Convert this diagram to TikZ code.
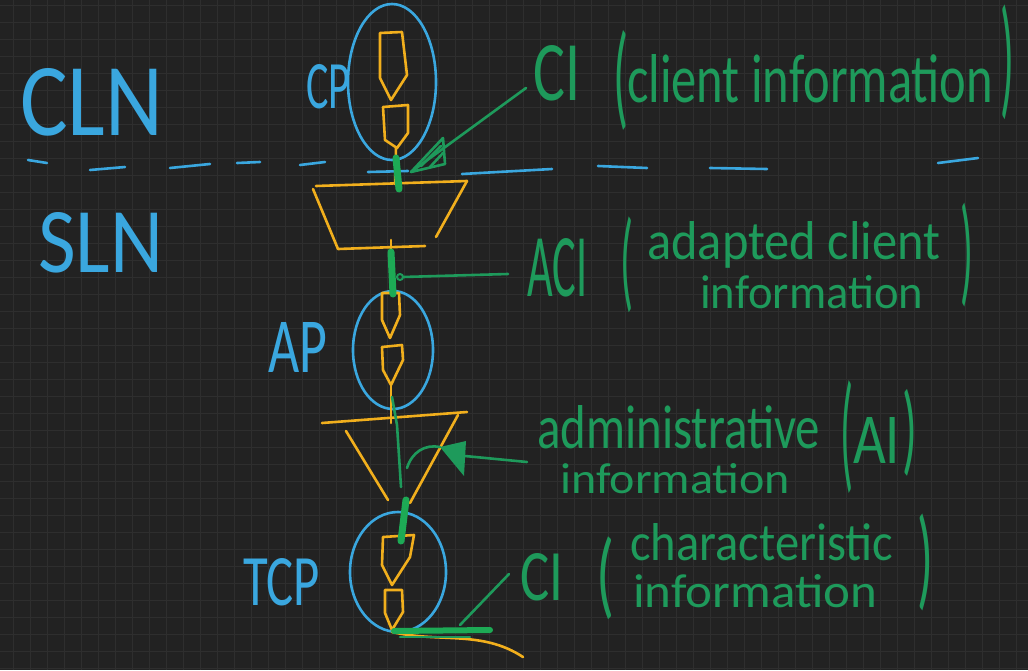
\documentclass[tikz,border=0pt]{standalone}
\usepackage{fontspec}
\setmainfont{Carlito}
\usetikzlibrary{shapes.geometric}
\definecolor{bgc}{HTML}{222222}
\definecolor{gridc}{HTML}{2E2E2E}
\definecolor{skyc}{HTML}{3AA7DF}
\definecolor{ambc}{HTML}{F1AF1D}
\definecolor{grnc}{HTML}{1E9A5B}
\definecolor{grnb}{HTML}{1DAA55}
\tikzset{
  pen/.style={line width=2.6pt, line cap=round, line join=round},
  bluepen/.style={pen, draw=skyc},
  orpen/.style={pen, draw=ambc},
  grpen/.style={pen, draw=grnc},
  smear/.style={line width=7pt, line cap=round, draw=grnb},
  btxt/.style={text=skyc, inner sep=0pt, anchor=base west},
  gtxt/.style={text=grnc, inner sep=0pt, anchor=base west},
  paren/.style={text=grnc, inner sep=0pt, anchor=center},
  loopbox/.style={ellipse, draw=skyc, line width=2.6pt, inner sep=0pt},
  gridline/.style={draw=gridc, line width=1pt},
}
\newcommand\hw[3]{\resizebox{#1}{#2}{#3}}
\newcommand\pw[3]{\resizebox*{#1}{#2}{#3}}
\begin{document}
\begin{tikzpicture}[x=1pt,y=-1pt]
\useasboundingbox (0,0) rectangle (1028,670);
\fill[bgc] (0,0) rectangle (1028,670);
\foreach \x in {13.3,30.3,...,1028} \draw[gridline] (\x,0) -- (\x,670);
\foreach \y in {5.3,22.3,...,670} \draw[gridline] (0,\y) -- (1028,\y);

% blue dashed boundary
\foreach \a/\b/\c/\d in {28/160/47/163, 90/170/125/167, 170/168/210/164, 237/163/260/162, 300/165/325/162, 368/172/408/171, 462/174/552/169, 598/166/647/168, 710/168/767/169, 938/163/978/158}
  \draw[bluepen] (\a,\b) -- (\c,\d);

% blue labels
\node[btxt] (cln) at (20,135) {\hw{143pt}{67pt}{CLN}};
\node[btxt] (sln) at (38,272) {\hw{125pt}{60pt}{SLN}};
\node[btxt] (cpl) at (306,108) {\hw{44pt}{44pt}{CP}};
\node[btxt] (apl) at (268,372) {\hw{59pt}{50pt}{AP}};
\node[btxt] (tcpl) at (243,605) {\hw{77pt}{47pt}{TCP}};

% loops
\node[loopbox, minimum width=88pt, minimum height=156pt] (cp) at (392,82) {};
\node[loopbox, minimum width=80pt, minimum height=118pt] (ap) at (393,350) {};
\node[loopbox, minimum width=96pt, minimum height=120pt] (tcp) at (398,572) {};

% orange flow inside CP
\draw[orpen] (380,33) -- (402,32) -- (407,75) -- (391,100) -- (380,78) -- cycle;
\draw[orpen] (383,107) -- (408,105) -- (408,133) -- (397,148) -- (385,140) -- cycle;
\coordinate (cpout) at (396,148);
\coordinate (trtop) at (395,184);
\draw[orpen] (cpout) -- (trtop);

% trapezoid
\coordinate (trTL) at (316,186);
\coordinate (trTR) at (467,181);
\draw[orpen] (trTL) -- (trTR);
\draw[orpen] (313,189) -- (338,249) -- (425,246);
\draw[orpen] (trTR) -- (436,237);
\coordinate (trbot) at (391,240);
\coordinate (apin) at (391,293);
\draw[orpen] (trbot) -- (apin);

% orange inside AP
\draw[orpen] (382,293) -- (399,293) -- (400,315) -- (390,338) -- (382,320) -- cycle;
\draw[orpen] (382,347) -- (402,345) -- (403,360) -- (391,385) -- (383,370) -- cycle;
\coordinate (apout) at (391,385);
\coordinate (tritop) at (391,423);
\draw[orpen] (apout) -- (tritop);

% triangle
\draw[orpen] (322,423) -- (467,412);
\draw[orpen] (346,431) -- (388,500);
\draw[orpen] (458,415) -- (410,503);

% orange inside TCP
\draw[orpen] (383,537) -- (414,535) -- (410,557) -- (392,585) -- (382,565) -- cycle;
\draw[orpen] (385,590) -- (402,590) -- (403,612) -- (392,630) -- (385,613) -- cycle;
\coordinate (tcpout) at (392,632);
\coordinate (tail) at (523,657);
\draw[orpen] (tcpout) .. controls (440,643) and (482,630) .. (tail);

% green marks on the flow
\draw[smear] (396,158) -- (399,189);
\draw[smear] (391,252) -- (393,294);
\draw[smear] (406,500) -- (401,541);
\draw[grpen] (392,397) -- (397,425) -- (401,487);

% green text labels
\node[gtxt] (ci1) at (533,100) {\hw{47pt}{55pt}{CI}};
\node[paren] (p1l) at (621,80) {\pw{15pt}{100pt}{(}};
\node[gtxt] (ci1t) at (627,102) {\hw{366pt}{48pt}{client information}};
\node[paren] (p1r) at (1007,62) {\pw{14pt}{115pt}{)}};

\node[gtxt] (aci) at (527,296) {\hw{60pt}{58pt}{ACI}};
\node[paren] (p2l) at (627,265) {\pw{13pt}{96pt}{(}};
\node[gtxt] (aci1) at (647,259) {\hw{293pt}{38pt}{adapted client}};
\node[gtxt] (aci2) at (700,308) {\hw{223pt}{33pt}{information}};
\node[paren] (p2r) at (967,255) {\pw{13pt}{104pt}{)}};

\node[gtxt] (ai1) at (537,448) {\hw{283pt}{43pt}{administrative}};
\node[gtxt] (ai2) at (560,493) {\hw{230pt}{30pt}{information}};
\node[paren] (p3l) at (847,437) {\pw{13pt}{113pt}{(}};
\node[gtxt] (ai) at (853,463) {\hw{47pt}{46pt}{AI}};
\node[paren] (p3r) at (910,433) {\pw{15pt}{87pt}{)}};

\node[gtxt] (ci2) at (520,600) {\hw{43pt}{47pt}{CI}};
\node[paren] (p4l) at (605,578) {\pw{18pt}{83pt}{(}};
\node[gtxt] (ci2a) at (630,560) {\hw{263pt}{37pt}{characteristic}};
\node[gtxt] (ci2b) at (633,607) {\hw{244pt}{33pt}{information}};
\node[paren] (p4r) at (925,562) {\pw{16pt}{97pt}{)}};

% green connectors
\coordinate (ci1lead) at (526,88);
\coordinate (cptip) at (411,172);
\draw[grpen] (ci1lead) -- (cptip);
\draw[grpen] (cptip) -- (443,138) -- (445,164) -- cycle;
\draw[grpen] (421,166) -- (441,146);
\draw[grpen] (430,167) -- (443,153);

\coordinate (acitap) at (400,277);
\coordinate (acilead) at (508,274);
\draw[grnc, line width=2pt] (acitap) circle (3);
\draw[grpen] (403,277) -- (acilead);

\coordinate (ailead) at (527,462);
\coordinate (aitip) at (440,447);
\draw[grpen] (ailead) -- (465,456);
\fill[grnc] (aitip) -- (466,441) -- (464,476) -- cycle;
\draw[grpen] (407,468) .. controls (412,452) and (425,444) .. (aitip);

\coordinate (ci2lead) at (509,574);
\coordinate (ci2end) at (460,625);
\draw[grpen] (ci2lead) -- (ci2end);
\draw[smear, line width=6pt] (394,631) -- (490,630);
\draw[grpen] (400,637) -- (470,637);
\end{tikzpicture}
\end{document}
